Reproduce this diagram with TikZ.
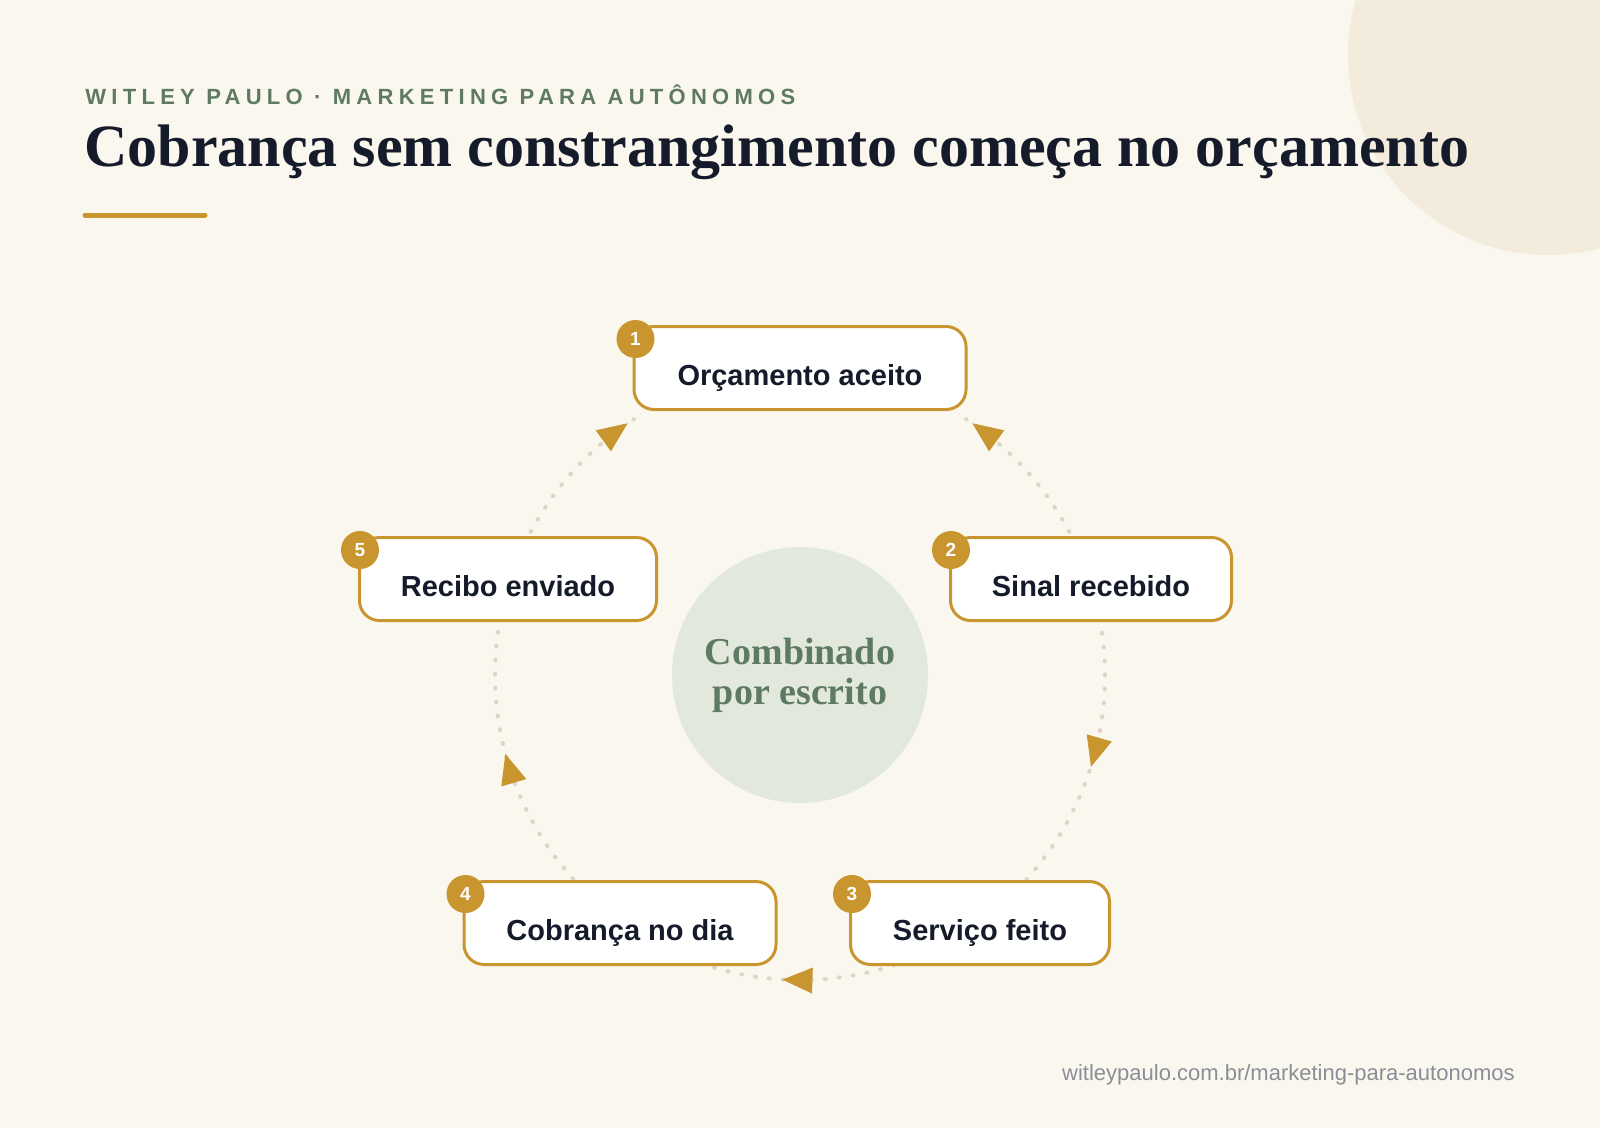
\documentclass[tikz,border=0pt]{standalone}
\usepackage{fontspec}
\setmainfont{Liberation Serif}
\setsansfont{Liberation Sans}
\usetikzlibrary{arrows.meta,decorations.markings}
\definecolor{bgc}{HTML}{FAF7EE}
\definecolor{blob}{HTML}{F3ECDC}
\definecolor{gold}{HTML}{C8952E}
\definecolor{navy}{HTML}{161B2B}
\definecolor{sage}{HTML}{5F7A62}
\definecolor{sagebg}{HTML}{E2E9DC}
\definecolor{dotc}{HTML}{DDD6C4}
\definecolor{urlc}{HTML}{8A8E96}
\tikzset{every picture/.style={line width=0.75pt}}
\tikzset{
  stage/.style={draw=gold, line width=3pt, fill=white, rounded corners=20pt, minimum height=83pt, text height=34pt, text depth=0pt, font=\sffamily\bfseries\fontsize{29}{30}\selectfont, text=navy},
  badge/.style={circle, fill=gold, minimum size=38pt, inner sep=0pt, text=white, font=\sffamily\bfseries\fontsize{19}{20}\selectfont},
  ring/.style={draw=dotc, line width=4pt, line cap=round, dash pattern=on 1pt off 13pt},
  tip/.style={postaction={decorate}, decoration={markings, mark=at position #1 with {\fill[gold] (8pt,0) -- (-22pt,13pt) -- (-22pt,-13pt) -- cycle;}}}
}
\begin{document}
\begin{tikzpicture}[x=1pt,y=1pt,yscale=-1,xscale=1]
\fill[bgc] (0,0) rectangle (1600,1128);
\useasboundingbox (0,0) rectangle (1600,1128);
%Shape: corner blob
\fill[blob] (1548,55) circle (200);

% Text Node
\node[anchor=west, inner sep=0pt, text=sage, font=\sffamily\bfseries\fontsize{22}{24}\selectfont] (kicker) at (85,95) {\addfontfeature{LetterSpace=24}WITLEY PAULO · MARKETING PARA AUTÔNOMOS};
% Text Node
\node[anchor=west, inner sep=0pt, text=navy, font=\bfseries\fontsize{60}{64}\selectfont] (title) at (84,152) {Cobrança sem constrangimento começa no orçamento};
%Straight Lines
\draw[gold, line width=5pt, line cap=round] (85,215) -- (205,215);

%Shape: center circle
\node[circle, fill=sagebg, minimum size=256pt, align=center, text=sage, font=\bfseries\fontsize{38}{40}\selectfont] (ctr) at (800,675) {Combinado\\por escrito};

% ring segments (visual angle a -> -a because of yscale=-1)
\draw[ring, tip=0.9] ([shift={(-152:305)}]ctr.center) arc[start angle=-152, end angle=-123, radius=305];
\draw[ring, tip=0.9] ([shift={(-28:305)}]ctr.center) arc[start angle=-28, end angle=-57, radius=305];
\draw[ring, tip=0.48] ([shift={(-8:305)}]ctr.center) arc[start angle=-8, end angle=42, radius=305];
\draw[ring, tip=0.55] ([shift={(72:305)}]ctr.center) arc[start angle=72, end angle=108, radius=305];
\draw[ring, tip=0.5] ([shift={(138:305)}]ctr.center) arc[start angle=138, end angle=189, radius=305];

% stages
\node[stage, minimum width=332pt] (s1) at (800,368) {Orçamento aceito};
\node[stage, minimum width=281pt] (s2) at (1091,579) {Sinal recebido};
\node[stage, minimum width=259pt] (s3) at (980,923) {Serviço feito};
\node[stage, minimum width=312pt] (s4) at (620,923) {Cobrança no dia};
\node[stage, minimum width=297pt] (s5) at (508,579) {Recibo enviado};

\node[badge] (b1) at (s1.north west) [shift={(3,-14)}] {1};
\node[badge] (b2) at (s2.north west) [shift={(2,-14)}] {2};
\node[badge] (b3) at (s3.north west) [shift={(3,-14)}] {3};
\node[badge] (b4) at (s4.north west) [shift={(3,-14)}] {4};
\node[badge] (b5) at (s5.north west) [shift={(2,-14)}] {5};

% Text Node
\node[anchor=east, inner sep=0pt, text=urlc, font=\sffamily\fontsize{22}{24}\selectfont] (url) at (1515,1075) {witleypaulo.com.br/marketing-para-autonomos};
\end{tikzpicture}
\end{document}
